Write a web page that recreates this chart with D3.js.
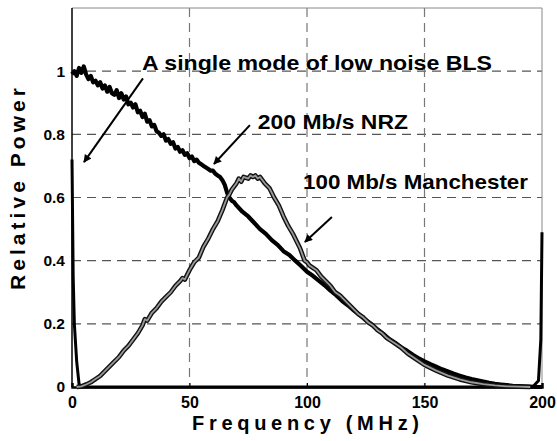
<!DOCTYPE html>
<html lang="en">
<head>
<meta charset="utf-8">
<script src="https://d3js.org/d3.v7.min.js"></script>
<style>
  body { margin: 0; background: #fff; }
  text { font-family: "Liberation Sans", Arial, sans-serif; font-weight: bold; fill: #000; }
</style>
</head>
<body>
<div id="chart"></div>
<script>
// values (frequency in MHz, relative power)
const xTicks = [0, 50, 100, 150, 200]
const yTicks = [0, 0.2, 0.4, 0.6, 0.8, 1]
const yTickLabels = ["0", "0.2", "0.4", "0.6", "0.8", "1"]

const nrzFreq = [0,1,2,3,4,5,6,7,8,9,10,11,12,13,14,15,16,17,18,19,20,21,22,23,24,25,26,27,28,29,
  30,31,32,33,34,35,36,37,38,39,40,41,42,43,44,45,46,47,48,49,50,51,52,53,54,55,56,57,58,59,
  60,61,62,63,64,65,66,67,68,69,70,72.5,75,77.5,80,82.5,85,87.5,90,92.5,95,97.5,100,102.5,105,
  107.5,110,112.5,115,117.5,120,122.5,125,127.5,130,132.5,135,137.5,140,142.5,145,147.5,150,
  152.5,155,157.5,160,162.5,165,167.5,170,172.5,175,177.5,180,182.5,185,187.5,190,192.5,195,197.5,200]
const nrzPower = [0.99,1.0,0.985,1.01,0.995,1.015,0.99,0.975,0.985,0.965,0.97,0.955,0.965,0.945,0.955,
  0.935,0.95,0.93,0.925,0.94,0.915,0.93,0.91,0.92,0.895,0.9,0.885,0.895,0.87,0.875,
  0.855,0.865,0.84,0.845,0.825,0.83,0.81,0.805,0.795,0.8,0.78,0.785,0.77,0.775,0.755,0.76,
  0.745,0.75,0.735,0.74,0.725,0.73,0.715,0.72,0.71,0.705,0.7,0.695,0.69,0.685,0.685,0.675,
  0.67,0.665,0.655,0.64,0.615,0.6,0.59,0.585,0.575,0.555,0.54,0.52,0.5,0.485,0.465,0.45,
  0.43,0.418,0.4,0.383,0.365,0.352,0.337,0.322,0.305,0.29,0.272,0.258,0.242,0.228,0.212,
  0.198,0.182,0.168,0.152,0.14,0.126,0.115,0.102,0.091,0.081,0.072,0.064,0.056,0.049,0.042,
  0.036,0.03,0.025,0.021,0.017,0.013,0.01,0.008,0.006,0.004,0.003,0.002,0.001,0,0]

const manFreq = [2,4,6,8,10,12,14,16,18,20,22,24,26,28,30,31,32,34,36,38,40,42,44,46,47,48,50,52,
  54,56,58,60,62,64,66,67,68,70,71,72,73,75,76,77,78,79,80,81,82,84,85,86,88,90,92,94,96,97,98,
  99,100,101,102,104,106,108,110,112,114,116,118,120,122,124,126,128,130,132,134,136,138,140,
  143,146,150,155,160,165,170,175,180,185,190,195]
const manPower = [0,0.002,0.008,0.015,0.025,0.035,0.05,0.065,0.08,0.095,0.115,0.13,0.15,0.17,0.195,
  0.215,0.21,0.235,0.25,0.27,0.285,0.3,0.32,0.335,0.345,0.34,0.37,0.395,0.41,0.445,0.47,0.5,
  0.525,0.56,0.6,0.61,0.625,0.645,0.66,0.65,0.665,0.66,0.67,0.665,0.67,0.66,0.665,0.655,0.645,
  0.63,0.615,0.6,0.575,0.54,0.51,0.485,0.455,0.44,0.42,0.4,0.395,0.385,0.38,0.37,0.35,0.335,
  0.32,0.3,0.29,0.275,0.26,0.245,0.23,0.22,0.205,0.195,0.18,0.17,0.155,0.145,0.135,0.125,
  0.105,0.09,0.07,0.052,0.036,0.024,0.015,0.009,0.005,0.002,0.001,0]

const blsFreq = [0,0.5,1,2,3,4,100,196,198.5,199.5,200]
const blsPower = [0.72,0.35,0.2,0.08,0.01,0,0,0,0.02,0.15,0.49]

// annotations: text, text anchor point, arrow start, arrow tip (data units)
const labels = ["A single mode of low noise BLS", "200 Mb/s NRZ", "100 Mb/s Manchester"]
const labelPos = [[29.8, 1.003], [79.1, 0.816], [98.3, 0.627]]
const labelWidth = [350, 150, 225]
const arrowFrom = [[30.2, 0.977], [75.7, 0.829], [110.6, 0.538]]
const arrowTo = [[5.1, 0.712], [60.4, 0.706], [99.1, 0.459]]

const width = 557
const height = 441

const svg = d3.select("#chart").append("svg")
  .attr("width", width)
  .attr("height", height)

const x = d3.scaleLinear().domain([0, 200]).range([72, 542])
const y = d3.scaleLinear().domain([0, 1.2]).range([387, 8])

// grid
svg.append("g").selectAll("line")
  .data(yTicks.filter(d => d > 0))
  .join("line")
  .attr("x1", x(0)).attr("x2", x(200))
  .attr("y1", d => y(d)).attr("y2", d => y(d))
  .attr("stroke", "#555").attr("stroke-width", 1.2)
  .attr("stroke-dasharray", "9,6")

svg.append("g").selectAll("line")
  .data(xTicks.filter(d => d > 0 && d < 200))
  .join("line")
  .attr("x1", d => x(d)).attr("x2", d => x(d))
  .attr("y1", y(1.2)).attr("y2", y(0))
  .attr("stroke", "#777").attr("stroke-width", 1.2)
  .attr("stroke-dasharray", "9,6")

// frame
svg.append("line").attr("x1", x(0)).attr("x2", x(200)).attr("y1", y(1.2)).attr("y2", y(1.2))
  .attr("stroke", "#888").attr("stroke-width", 1)
svg.append("line").attr("x1", x(200)).attr("x2", x(200)).attr("y1", y(1.2)).attr("y2", y(0))
  .attr("stroke", "#888").attr("stroke-width", 1)
svg.append("line").attr("x1", x(0)).attr("x2", x(0)).attr("y1", y(1.2)).attr("y2", y(0))
  .attr("stroke", "#000").attr("stroke-width", 1.5)

// axes (ticks inside, bold labels)
const xAxis = d3.axisBottom(x).tickValues(xTicks).tickSize(-4).tickPadding(9.5)
const gx = svg.append("g").attr("transform", "translate(0," + y(0) + ")").call(xAxis)
gx.select(".domain").attr("stroke", "#000").attr("stroke-width", 2.5)
gx.selectAll("text").style("font-size", "16px").style("font-family", "Liberation Sans, Arial, sans-serif").style("font-weight", "bold")

const yAxis = d3.axisLeft(y).tickValues(yTicks).tickFormat((d, i) => yTickLabels[i]).tickSize(0).tickPadding(7)
const gy = svg.append("g").attr("transform", "translate(" + x(0) + ",0)").call(yAxis)
gy.select(".domain").remove()
gy.selectAll("text").style("font-size", "15.5px").style("font-family", "Liberation Sans, Arial, sans-serif").style("font-weight", "bold")

// curves
const line = d3.line().x(d => x(d[0])).y(d => y(d[1]))

const bls = blsFreq.map((f, i) => [f, blsPower[i]])
const nrz = nrzFreq.map((f, i) => [f, nrzPower[i]])
const man = manFreq.map((f, i) => [f, manPower[i]])

svg.append("path").datum(bls).attr("d", line)
  .attr("fill", "none").attr("stroke", "#000").attr("stroke-width", 3)

svg.append("path").datum(nrz).attr("d", line)
  .attr("fill", "none").attr("stroke", "#000").attr("stroke-width", 4.2)
  .attr("stroke-linejoin", "round")

svg.append("path").datum(man).attr("d", line)
  .attr("fill", "none").attr("stroke", "#111").attr("stroke-width", 4.6)
  .attr("stroke-linejoin", "round")
svg.append("path").datum(man).attr("d", line)
  .attr("fill", "none").attr("stroke", "#999").attr("stroke-width", 1.8)
  .attr("stroke-linejoin", "round")

// arrows
svg.append("defs").append("marker")
  .attr("id", "head")
  .attr("viewBox", "0 0 10 10")
  .attr("refX", 9).attr("refY", 5)
  .attr("markerWidth", 10).attr("markerHeight", 8)
  .attr("markerUnits", "userSpaceOnUse")
  .attr("orient", "auto")
  .append("path").attr("d", "M0,0 L10,5 L0,10 z").attr("fill", "#000")

svg.append("g").selectAll("line")
  .data(arrowFrom)
  .join("line")
  .attr("x1", d => x(d[0])).attr("y1", d => y(d[1]))
  .attr("x2", (d, i) => x(arrowTo[i][0])).attr("y2", (d, i) => y(arrowTo[i][1]))
  .attr("stroke", "#000").attr("stroke-width", 2)
  .attr("marker-end", "url(#head)")

svg.append("g").selectAll("text")
  .data(labels)
  .join("text")
  .attr("x", (d, i) => x(labelPos[i][0]))
  .attr("y", (d, i) => y(labelPos[i][1]))
  .attr("textLength", (d, i) => labelWidth[i])
  .attr("lengthAdjust", "spacingAndGlyphs")
  .style("font-size", "20.5px")
  .text(d => d)

// axis titles
svg.append("text")
  .attr("x", 192).attr("y", 430)
  .attr("textLength", 227).attr("lengthAdjust", "spacing")
  .style("font-size", "20px")
  .text("Frequency (MHz)")

svg.append("text")
  .attr("transform", "translate(25,290) rotate(-90)")
  .attr("textLength", 202).attr("lengthAdjust", "spacing")
  .style("font-size", "21px")
  .text("Relative Power")
</script>
</body>
</html>
